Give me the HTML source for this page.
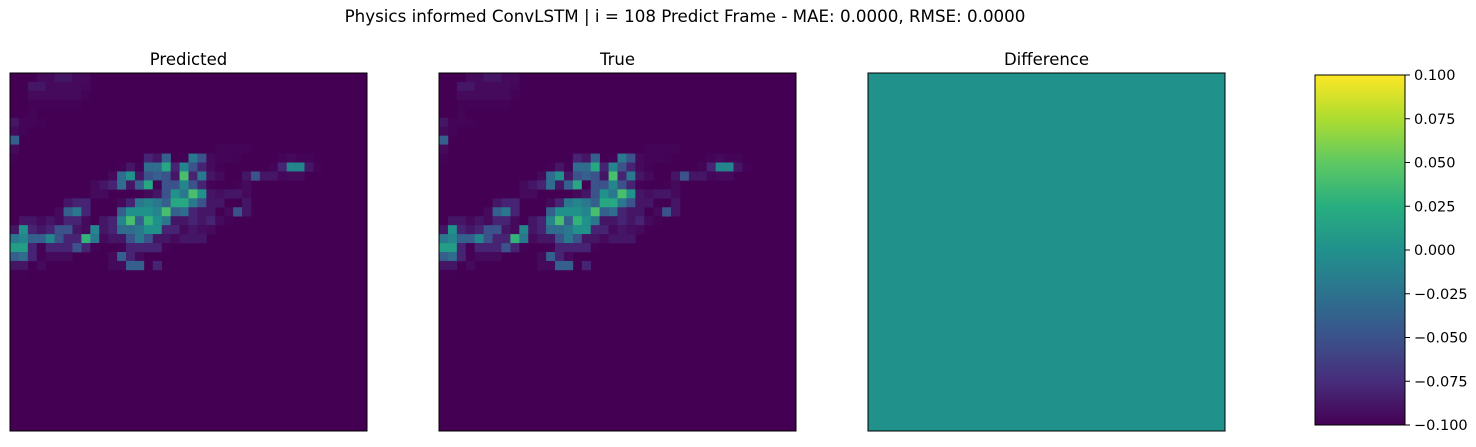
<!DOCTYPE html>
<html><head><meta charset="utf-8"><style>
body{margin:0;background:#fff;font-family:"DejaVu Sans","Liberation Sans",sans-serif}
svg text{font-family:"DejaVu Sans","Liberation Sans",sans-serif}
</style></head><body>
<svg id="fig" width="1476" height="443" xmlns="http://www.w3.org/2000/svg">
<text x="685" y="22" font-size="16.7" text-anchor="middle">Physics informed ConvLSTM | i = 108 Predict Frame - MAE: 0.0000, RMSE: 0.0000</text>
<text x="188.5" y="65" font-size="16.5" text-anchor="middle">Predicted</text>
<text x="617.5" y="65" font-size="16.5" text-anchor="middle">True</text>
<text x="1046.5" y="65" font-size="16.5" text-anchor="middle">Difference</text>
<g id="pred"></g>
<g id="truth"></g>
<rect x="868" y="73" width="357" height="358" fill="#21918c" stroke="#000" stroke-width="1"/>
<defs><linearGradient id="vg" x1="0" y1="1" x2="0" y2="0">
<stop offset="0" stop-color="#440154"/><stop offset="0.125" stop-color="#472d7b"/><stop offset="0.25" stop-color="#3b528b"/><stop offset="0.375" stop-color="#2c728e"/><stop offset="0.5" stop-color="#21918c"/><stop offset="0.625" stop-color="#28ae80"/><stop offset="0.75" stop-color="#5ec962"/><stop offset="0.875" stop-color="#addc30"/><stop offset="1" stop-color="#fde725"/></linearGradient></defs>
<rect x="1315" y="75" width="90" height="350" fill="url(#vg)" stroke="#000" stroke-width="1"/>
<g id="cbticks"></g>
</svg>
<script>
const gridRows = 40, gridCols = 40;
// sparse cell intensities: [row, col, value(0-10 viridis scale)]
const cells = [
[0,3,1],[0,4,1],[0,5,1.5],[0,6,1.5],[0,7,1],[0,8,1],
[1,2,1.5],[1,3,1.5],[1,4,1],[1,5,1],[1,6,1],[1,7,1],[1,8,0.8],
[2,2,1],[2,3,1],[2,4,1],[2,5,1],[2,6,1],[2,7,1],[2,8,0.5],
[3,2,0.5],[3,3,0.5],[3,4,0.5],[3,5,0.5],[3,6,0.5],[3,7,0.5],
[4,2,0.6],[5,0,1.5],[5,1,0.6],[5,2,0.6],[5,3,0.5],[6,0,1],[6,1,0.6],[7,0,3],
[8,0,1],[8,23,0.7],[8,24,0.7],[8,25,0.7],[8,26,0.6],
[9,0,0.5],[9,15,2],[9,16,1.5],[9,17,3],[9,19,0.5],[9,20,4],[9,21,2.5],[9,22,1],[9,23,0.7],[9,24,0.7],[9,25,0.5],[9,30,0.7],[9,31,1],[9,32,0.7],[9,33,0.7],
[10,12,0.5],[10,13,1.5],[10,14,0.5],[10,15,3.5],[10,16,3.5],[10,17,6],[10,18,2],[10,19,4.5],[10,20,2.5],[10,21,2],[10,22,1],[10,23,0.5],[10,29,0.7],[10,30,2],[10,31,4.5],[10,32,4.5],[10,33,1.5],[10,34,0.5],
[11,11,1],[11,12,3.5],[11,13,5],[11,14,1.5],[11,15,2.5],[11,16,3],[11,17,2.5],[11,18,1.5],[11,19,7],[11,20,2],[11,21,4],[11,22,1.5],[11,23,1],[11,26,1.5],[11,27,2.5],[11,28,1.5],[11,29,1.5],[11,30,0.8],[11,31,1],[11,32,1],
[12,9,1],[12,10,1.5],[12,11,2],[12,12,3.5],[12,13,1.5],[12,14,3],[12,15,6],[12,16,0.5],[12,17,2.5],[12,18,2.5],[12,19,4.5],[12,20,2.5],[12,21,2],[12,22,0.5],[12,25,0.5],[12,26,1],
[13,9,1],[13,10,1],[13,15,1],[13,16,1.5],[13,17,2.5],[13,18,5],[13,19,4],[13,20,7],[13,21,5],[13,22,1.5],[13,23,1.2],[13,24,1.5],[13,25,1.5],[13,26,1],
[14,6,1.5],[14,7,2],[14,8,2],[14,12,1],[14,13,2],[14,14,4],[14,15,4.5],[14,16,4],[14,17,3],[14,18,6],[14,19,6],[14,20,4],[14,21,2.5],[14,22,1.5],[14,23,1.5],[14,26,1.5],
[15,5,1],[15,6,3],[15,7,4],[15,8,2],[15,12,3],[15,13,5],[15,14,5],[15,15,5],[15,16,4.5],[15,17,7],[15,18,3],[15,19,3.5],[15,20,2],[15,21,1.5],[15,22,1.5],[15,24,1],[15,25,2.5],[15,26,1.5],
[16,1,1.5],[16,2,1.5],[16,3,1],[16,4,1.5],[16,5,1],[16,6,2],[16,7,2],[16,8,1],[16,10,1.5],[16,11,2],[16,12,4.5],[16,13,7],[16,14,3],[16,15,6.5],[16,16,5],[16,17,4],[16,18,1.5],[16,19,1.5],[16,20,2],[16,21,1.5],[16,22,2],[16,23,1],[16,24,0.5],
[17,0,1.5],[17,1,5],[17,2,2],[17,3,1.5],[17,4,2],[17,5,2.5],[17,6,2.5],[17,7,1.5],[17,8,1],[17,9,4.5],[17,10,1.5],[17,11,2],[17,12,3.5],[17,13,3.5],[17,14,4],[17,15,5],[17,16,5],[17,17,2],[17,18,2],[17,19,1],[17,20,1.5],[17,21,1.2],[17,22,1],
[18,0,4],[18,1,4.5],[18,2,3],[18,3,3],[18,4,4.5],[18,5,2.5],[18,6,2],[18,7,2],[18,8,6.5],[18,9,4],[18,10,1],[18,11,1.5],[18,12,1.5],[18,13,2.5],[18,14,4],[18,15,2.5],[18,16,1.5],[18,17,1.5],[18,18,1],[18,19,1.5],[18,20,1.5],[18,21,1.5],
[19,0,5.5],[19,1,5.5],[19,2,2],[19,3,0.5],[19,4,2],[19,5,2],[19,6,2],[19,7,2.5],[19,8,2],[19,9,0.5],[19,12,0.5],[19,13,2],[19,14,2],[19,15,2],[19,16,2],[19,17,0.5],
[20,0,3],[20,1,3.5],[20,2,2],[20,3,0.5],[20,4,1],[20,5,1],[20,6,1],[20,11,1],[20,12,3],[20,13,2],[20,14,1],
[21,0,1.5],[21,1,1.5],[21,3,1],[21,11,1],[21,12,1],[21,13,3],[21,14,3],[21,16,2],
[22,0,0.4],[22,1,0.4]
];
const cbTicks = [0.100,0.075,0.050,0.025,0.000,-0.025,-0.050,-0.075,-0.100];
const stops=[[68,1,84],[71,45,123],[59,82,139],[44,114,142],[33,145,140],[40,174,128],[94,201,98],[173,220,48],[253,231,37]];
function viridis(t){t=Math.max(0,Math.min(1,t));const p=t*8,i=Math.min(7,Math.floor(p)),f=p-i;
const c=stops[i].map((v,k)=>Math.round(v+(stops[i+1][k]-v)*f));return `rgb(${c})`;}
function level(v){return v<=2 ? v*v/40 : v/10;}
const NS="http://www.w3.org/2000/svg";
function drawPanel(g,x0,y0,w,h){
  const cw=w/gridCols,ch=h/gridRows;
  const bg=document.createElementNS(NS,'rect');
  bg.setAttribute('x',x0);bg.setAttribute('y',y0);bg.setAttribute('width',w);bg.setAttribute('height',h);bg.setAttribute('fill','#440154');
  
  
  g.appendChild(bg);
  cells.forEach(([r,c,v])=>{
    const el=document.createElementNS(NS,'rect');
    el.setAttribute('x',x0+c*cw);el.setAttribute('y',y0+r*ch);el.setAttribute('width',cw+0.3);el.setAttribute('height',ch+0.3);
    el.setAttribute('fill',viridis(level(v)));
    
    
    g.appendChild(el);
  });
  const fr=document.createElementNS(NS,'rect');
  fr.setAttribute('x',x0);fr.setAttribute('y',y0);fr.setAttribute('width',w);fr.setAttribute('height',h);fr.setAttribute('fill','none');fr.setAttribute('stroke','#000');
  
  
  g.appendChild(fr);
}
drawPanel(document.getElementById('pred'),10,73,357,358);
drawPanel(document.getElementById('truth'),439,73,357,358);
const tg=document.getElementById('cbticks');
const cbY=v=>75+(0.1-v)/0.2*350;
cbTicks.forEach(v=>{
  const y=cbY(v);
  const l=document.createElementNS(NS,'line');
  l.setAttribute('x1',1405);l.setAttribute('x2',1410);l.setAttribute('y1',y);l.setAttribute('y2',y);l.setAttribute('stroke','#000');
  
  
  tg.appendChild(l);
  const t=document.createElementNS(NS,'text');
  t.setAttribute('x',1414);t.setAttribute('y',y+5);t.setAttribute('font-size','14.5');
  t.textContent=(v<0?'\u2212':'')+Math.abs(v).toFixed(3);
  
  
  tg.appendChild(t);
});
</script>
</body></html>
